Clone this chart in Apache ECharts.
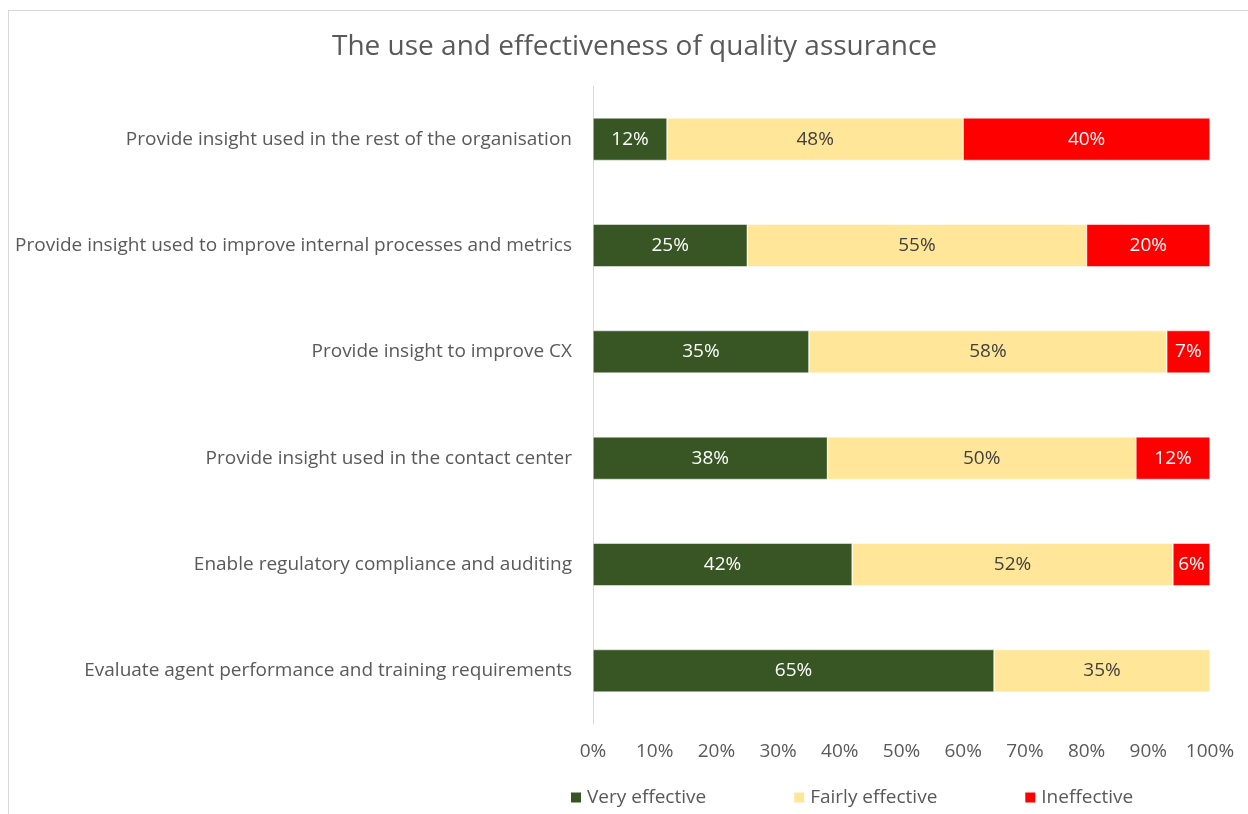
<!DOCTYPE html>
<html>
<head>
<meta charset="utf-8">
<title>The use and effectiveness of quality assurance</title>
<script src="https://cdn.jsdelivr.net/npm/echarts@6/dist/echarts.min.js"></script>
<style>
  html, body { margin: 0; padding: 0; background: #fff; }
  #frame {
    position: absolute; left: 8px; top: 10px; width: 1300px; height: 900px;
    border-left: 1px solid #d9d9d9; border-top: 1px solid #d9d9d9;
  }
  #chart { position: absolute; left: 0; top: 0; width: 1248px; height: 814px; }
</style>
</head>
<body>
<div id="frame"></div>
<div id="chart"></div>
<script>
// categories, top to bottom as in the picture
const categories = [
  'Provide insight used in the rest of the organisation',
  'Provide insight used to improve internal processes and metrics',
  'Provide insight to improve CX',
  'Provide insight used in the contact center',
  'Enable regulatory compliance and auditing',
  'Evaluate agent performance and training requirements'
]
const veryEffective = [12, 25, 35, 38, 42, 65]
const fairlyEffective = [48, 55, 58, 50, 52, 35]
const ineffective = [40, 20, 7, 12, 6, null]
const seriesNames = ['Very effective', 'Fairly effective', 'Ineffective']
const colors = ['#375623', '#FFE699', '#FF0000']
const labelColors = ['#ffffff', '#404040', '#ffffff']

const font = '"Open Sans", sans-serif'

const chart = echarts.init(document.getElementById('chart'))

function makeSeries(name, data, i) {
  return {
    name: name,
    type: 'bar',
    stack: 'total',
    barWidth: '40%',
    data: data,
    itemStyle: { color: colors[i], borderColor: '#ffffff', borderWidth: 0.5 },
    label: {
      show: true,
      position: 'inside',
      color: labelColors[i],
      fontFamily: font,
      fontSize: 19,
      formatter: p => p.value == null ? '' : p.value + '%'
    }
  }
}

chart.setOption({
  animation: false,
  title: {
    text: 'The use and effectiveness of quality assurance',
    left: 327,
    top: 28,
    textStyle: { color: '#595959', fontFamily: font, fontSize: 28, fontWeight: 'normal' }
  },
  legend: {
    left: 564,
    top: 783,
    itemWidth: 12,
    itemHeight: 12,
    itemGap: 86,
    icon: 'rect',
    textStyle: { color: '#595959', fontFamily: font, fontSize: 19 },
    data: seriesNames
  },
  grid: { left: 593, right: 38, top: 86, bottom: 90 },
  xAxis: {
    type: 'value',
    min: 0,
    max: 100,
    interval: 10,
    axisLine: { show: false },
    axisTick: { show: false },
    splitLine: { show: false },
    axisLabel: {
      formatter: '{value}%',
      color: '#595959',
      fontFamily: font,
      fontSize: 19,
      margin: 18
    }
  },
  yAxis: {
    type: 'category',
    inverse: true,
    data: categories,
    axisLine: { show: true, lineStyle: { color: '#d9d9d9' } },
    axisTick: { show: false },
    axisLabel: { color: '#595959', fontFamily: font, fontSize: 19, margin: 21 }
  },
  series: [
    makeSeries(seriesNames[0], veryEffective, 0),
    makeSeries(seriesNames[1], fairlyEffective, 1),
    makeSeries(seriesNames[2], ineffective, 2)
  ]
})
</script>
</body>
</html>
